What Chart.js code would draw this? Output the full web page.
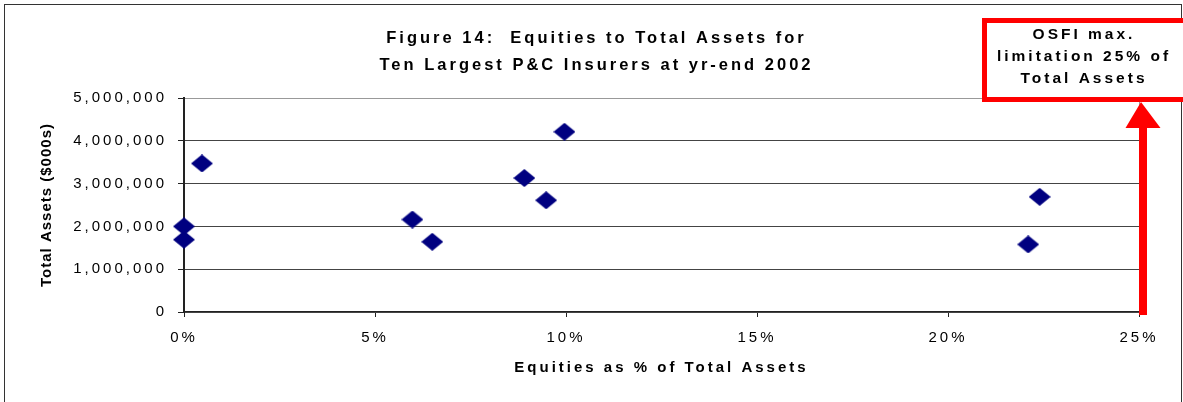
<!DOCTYPE html>
<html>
<head>
<meta charset="utf-8">
<script src="https://cdn.jsdelivr.net/npm/chart.js@4.4.1/dist/chart.umd.min.js"></script>
<style>
  html, body { margin: 0; padding: 0; background: #fff; }
</style>
</head>
<body>
<canvas id="chart" width="1183" height="402"></canvas>
<script>
// equities as % of total assets vs total assets ($000s), one point per insurer
const equityPct = [0, 0, 0.47, 5.98, 6.5, 8.91, 9.48, 9.96, 22.4, 22.1];
const totalAssets = [2000000, 1690000, 3470000, 2160000, 1640000, 3130000, 2610000, 4210000, 2690000, 1580000];
const xTicks = [0, 5, 10, 15, 20, 25];
const yTicks = [0, 1000000, 2000000, 3000000, 4000000, 5000000];
const titleLines = ['Figure 14:  Equities to Total Assets for', 'Ten Largest P&C Insurers at yr-end 2002'];
const osfiLimit = 25;
const osfiText = ['OSFI max.', 'limitation 25% of', 'Total Assets'];

const font = "'Liberation Sans', Arial, sans-serif";

// navy diamond, a bit wider than tall like the original marker
const marker = document.createElement('canvas');
marker.width = 22;
marker.height = 18;
let m = marker.getContext('2d');
m.fillStyle = '#000080';
m.beginPath();
m.moveTo(0, 9); m.lineTo(11, 0); m.lineTo(22, 9); m.lineTo(11, 18);
m.closePath();
m.fill();

// spaced-out lettering; y title is tighter than the rest
const spacing = {
  id: 'spacing',
  beforeLayout(chart) {
    chart.ctx.letterSpacing = '3px';
    chart.scales.y.draw = function (area) {
      const ctx = this.ctx;
      this.drawBackground();
      this.drawGrid(area);
      this.drawBorder();
      ctx.letterSpacing = '3px';
      this.drawLabels(area);
      ctx.letterSpacing = '1px';
      this.drawTitle();
      ctx.letterSpacing = '3px';
    };
    // the original title sits a little right of the canvas centre
    const tb = chart.titleBlock;
    if (tb && !tb._shifted) {
      const orig = tb.draw;
      tb.draw = function () {
        this.ctx.save();
        this.ctx.translate(8, 0);
        orig.call(this);
        this.ctx.restore();
      };
      tb._shifted = true;
    }
  },
  beforeDraw(chart) {
    const ctx = chart.ctx;
    ctx.letterSpacing = '3px';
    ctx.save();
    ctx.strokeStyle = '#333';
    ctx.lineWidth = 1;
    ctx.strokeRect(4.5, 4.5, 1177, 420);
    ctx.restore();
  }
};

const osfiNote = {
  id: 'osfiNote',
  afterDraw(chart) {
    const ctx = chart.ctx;
    const ax = chart.scales.x.getPixelForValue(osfiLimit) + 4;
    const base = chart.scales.y.getPixelForValue(0) + 3;
    const boxBottom = 102;
    ctx.save();
    ctx.fillStyle = '#fff';
    ctx.fillRect(984, 20, 205, 80);
    ctx.strokeStyle = '#ff0000';
    ctx.lineWidth = 5;
    ctx.strokeRect(984.5, 20.5, 205, 79);

    ctx.fillStyle = '#ff0000';
    ctx.fillRect(ax - 4, boxBottom + 25, 8, base - boxBottom - 25);
    ctx.beginPath();
    ctx.moveTo(ax - 2, boxBottom);
    ctx.lineTo(ax + 17.5, boxBottom + 26);
    ctx.lineTo(ax - 17.5, boxBottom + 26);
    ctx.closePath();
    ctx.fill();

    ctx.fillStyle = '#000';
    ctx.font = 'bold 15.5px ' + font;
    ctx.letterSpacing = '3px';
    ctx.textAlign = 'center';
    ctx.textBaseline = 'middle';
    osfiText.forEach((t, i) => ctx.fillText(t, 1084, 35 + i * 22));
    ctx.restore();
  }
};

const chart = new Chart(document.getElementById('chart'), {
  type: 'scatter',
  data: {
    datasets: [{
      data: equityPct.map((v, i) => ({ x: v, y: totalAssets[i] })),
      pointStyle: marker,
      pointRadius: 10,
      pointHoverRadius: 10,
      clip: false
    }]
  },
  options: {
    responsive: false,
    animation: false,
    layout: { padding: { left: 38, right: 44, top: 0, bottom: 10 } },
    plugins: {
      legend: { display: false },
      tooltip: { enabled: false },
      title: {
        display: true,
        text: titleLines,
        color: '#000',
        font: { family: font, size: 16.5, weight: 'bold', lineHeight: 27 / 16.5 },
        padding: { top: 25, bottom: 19 }
      }
    },
    scales: {
      x: {
        type: 'linear',
        min: 0,
        max: 25,
        afterBuildTicks: s => { s.ticks = xTicks.map(v => ({ value: v })); },
        afterFit: s => { s.height = 80; },
        ticks: {
          callback: v => v + '%',
          color: '#000',
          padding: 12,
          maxRotation: 0,
          font: { family: font, size: 15 }
        },
        grid: {
          color: c => (c.tick && c.tick.value === 25 ? '#999' : 'rgba(0,0,0,0)'),
          tickColor: '#222',
          tickLength: 5
        },
        border: { color: '#222', width: 2 },
        title: {
          display: true,
          text: 'Equities as % of Total Assets',
          color: '#000',
          font: { family: font, size: 15, weight: 'bold' },
          padding: { top: 0, bottom: 15 }
        }
      },
      y: {
        min: 0,
        max: 5000000,
        afterBuildTicks: s => { s.ticks = yTicks.map(v => ({ value: v })); },
        afterFit: s => { s.width = 146; },
        ticks: {
          callback: v => v.toLocaleString('en-US'),
          color: '#000',
          padding: 11,
          font: { family: font, size: 15 }
        },
        grid: {
          color: c => (c.tick && c.tick.value === 5000000 ? '#999' : '#444'),
          tickColor: '#222',
          tickLength: 6
        },
        border: { color: '#222', width: 2 },
        title: {
          display: true,
          text: 'Total Assets ($000s)',
          color: '#000',
          font: { family: font, size: 15, weight: 'bold' },
          padding: 0
        }
      }
    }
  },
  plugins: [spacing, osfiNote]
});
</script>
</body>
</html>
